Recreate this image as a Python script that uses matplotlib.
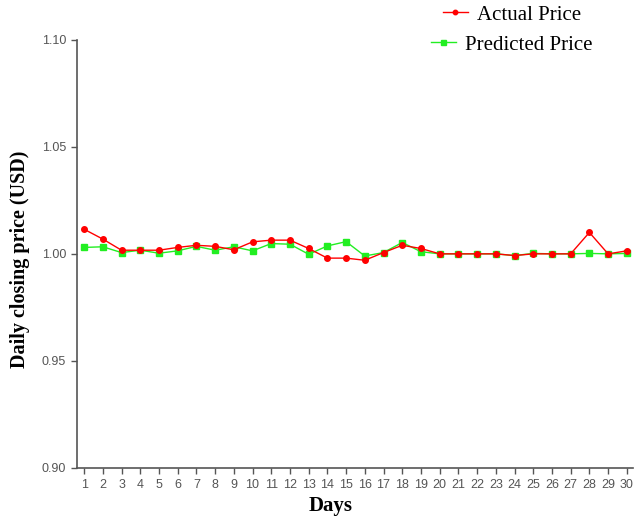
import numpy as np
import matplotlib.pyplot as plt

# Days 1..30
days = np.arange(1, 31)

actual_price = [1.0115, 1.0069, 1.0017, 1.0017, 1.0017, 1.0030, 1.0040, 1.0035, 1.0019, 1.0056,
                1.0064, 1.0064, 1.0025, 0.9980, 0.9980, 0.9970, 1.0006, 1.0040, 1.0025, 1.0000,
                1.0000, 1.0000, 1.0000, 0.9992, 1.0000, 1.0000, 1.0000, 1.0100, 1.0000, 1.0014]

predicted_price = [1.0030, 1.0033, 1.0006, 1.0017, 1.0003, 1.0014, 1.0035, 1.0017, 1.0033, 1.0014,
                   1.0048, 1.0045, 0.9998, 1.0037, 1.0057, 0.9990, 1.0006, 1.0053, 1.0010, 1.0000,
                   1.0000, 1.0000, 1.0000, 0.9992, 1.0002, 1.0000, 1.0000, 1.0002, 1.0000, 1.0002]

yticks = [0.90, 0.95, 1.00, 1.05, 1.10]

fig = plt.figure(figsize=(6.43, 5.17), dpi=100)
ax = fig.add_axes([0.12, 0.095, 0.865, 0.828])

l1, = ax.plot(days, actual_price, color='#ff0000', marker='o', markersize=4, linewidth=1,
              zorder=3)
l2, = ax.plot(days, predicted_price, color='#22ee22', marker='s', markersize=4.5, linewidth=1,
              zorder=2)

ax.set_xlim(0.63, 30.35)
ax.set_ylim(0.90, 1.10)
ax.set_xticks(days)
ax.set_xticklabels([str(d) for d in days])
ax.set_yticks(yticks)
ax.set_yticklabels(['%.2f' % v for v in yticks])

for side in ['top', 'right']:
    ax.spines[side].set_visible(False)
for side in ['left', 'bottom']:
    ax.spines[side].set_color('#555555')
    ax.spines[side].set_linewidth(1.2)

ax.tick_params(axis='both', direction='out', length=4.5, width=1, color='#555555',
               labelsize=9, labelcolor='#555555')
for lab in ax.get_xticklabels() + ax.get_yticklabels():
    lab.set_family('Liberation Sans')

ax.set_xlabel('Days', fontsize=15, fontweight='bold', family='Liberation Serif', labelpad=3)
ax.xaxis.set_label_coords(0.455, -0.065)
ax.set_ylabel('Daily closing price (USD)', fontsize=14.5, fontweight='bold',
              family='Liberation Serif', labelpad=6)
ax.yaxis.set_label_coords(-0.085, 0.487)

# legend entries are centred on one another, so one legend per entry
leg_font = {'family': 'Liberation Serif', 'size': 15}
leg1 = fig.legend([l1], ['Actual Price'], loc='center', bbox_to_anchor=(0.796, 0.971),
                  frameon=False, prop=leg_font, handlelength=1.2, handletextpad=0.45,
                  markerscale=0.8, borderpad=0)
leg2 = fig.legend([l2], ['Predicted Price'], loc='center', bbox_to_anchor=(0.796, 0.913),
                  frameon=False, prop=leg_font, handlelength=1.2, handletextpad=0.45,
                  markerscale=0.8, borderpad=0)

fig.savefig('out.png', dpi=100)
